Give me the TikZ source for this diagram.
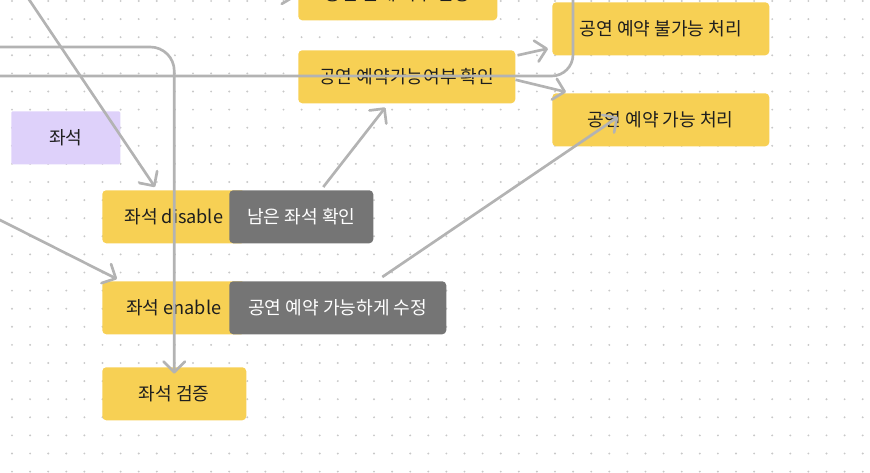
\documentclass[tikz,border=0pt]{standalone}
\usepackage{fontspec}
\setmainfont{Noto Sans CJK KR}
\usepackage{xcolor}
\usepackage{tikz}
\usetikzlibrary{arrows.meta}
\definecolor{seatyellow}{RGB}{247,208,84}
\definecolor{seatpurple}{RGB}{222,209,250}
\definecolor{seatgray}{RGB}{117,117,117}
\definecolor{seatdark}{RGB}{30,30,30}
\definecolor{seatline}{RGB}{179,179,179}
\definecolor{seatdot}{RGB}{200,200,200}

\begin{document}
\begin{tikzpicture}[
  x=0.75pt, y=-0.75pt,
  every node/.style={font=\fontsize{13.6}{16}\selectfont, inner sep=0pt, anchor=north west},
  ybox/.style={fill=seatyellow, rounded corners=3pt, minimum height=39.75pt, text=seatdark},
  gbox/.style={fill=seatgray, rounded corners=3pt, minimum height=39.75pt, text=white},
  pbox/.style={fill=seatpurple, rounded corners=1pt, minimum height=39.75pt, text=seatdark},
  link/.style={draw=seatline, line width=2pt},
  arr/.style={link, -{Straight Barb[length=8pt, width=16pt, round]}}
]
  \useasboundingbox (0,0) rectangle (870,472);
  \clip (0,0) rectangle (870,472);

  % dotted canvas
  \foreach \i in {0,...,48}
    \foreach \j in {0,...,26}
      \fill[seatdot] (12+18.1*\i, 1+18.1*\j) circle (0.8pt);

  \node[ybox, minimum width=149.25pt] (top) at (298,-33) {공연 존재 여부 판정};
  \node[ybox, minimum width=162.75pt] (chk) at (298,50)  {공연 예약가능여부 확인};
  \node[ybox, minimum width=162.75pt] (no)  at (552,2)   {공연 예약 불가능 처리};
  \node[ybox, minimum width=162.75pt] (ok)  at (552,93)  {공연 예약 가능 처리};

  \node[pbox, minimum width=81.75pt] (seat) at (11,111) {좌석};

  \node[ybox, minimum width=107.25pt] (dis) at (102,190) {좌석 disable};
  \node[gbox, minimum width=108pt]    (rem) at (229,190) {남은 좌석 확인};
  \node[ybox, minimum width=107.25pt] (en)  at (102,281) {좌석 enable};
  \node[gbox, minimum width=162.75pt] (fix) at (229,281) {공연 예약 가능하게 수정};
  \node[ybox, minimum width=108pt]    (val) at (102,367) {좌석 검증};

  % loose ends coming from outside the view
  \coordinate (in1) at (28,-2);
  \coordinate (in2) at (0,47);
  \coordinate (in3) at (0,76);
  \coordinate (out3) at (573,-5);
  \coordinate (in8) at (-2,219);
  \coordinate (in9) at (255,-14);

  \draw[arr] (in1) -- ([shift={(53,-3)}]dis.north west);
  \draw[arr, rounded corners=18pt] (in2) -- (val.north |- in2) -- ([yshift=-5]val.north);
  \draw[link, rounded corners=16pt] (in3) -- (in3 -| out3) -- (out3);
  \draw[arr] ([shift={(2,-21.5)}]chk.east) -- ([shift={(-4,-7)}]no.south west);
  \draw[arr] ([shift={(0,3)}]chk.east) -- ([shift={(14,-1)}]ok.north west);
  \draw[arr] ([shift={(22,-3)}]rem.north) -- ([shift={(-21.5,4)}]chk.south);
  \draw[arr] ([shift={(44.5,-4)}]fix.north) -- ([shift={(66,24)}]ok.north west);
  \draw[arr] (in8) -- ([shift={(15,-2)}]en.north west);
  \draw[arr] (in9) -- ([shift={(-2,-24)}]top.south west);
\end{tikzpicture}
\end{document}
